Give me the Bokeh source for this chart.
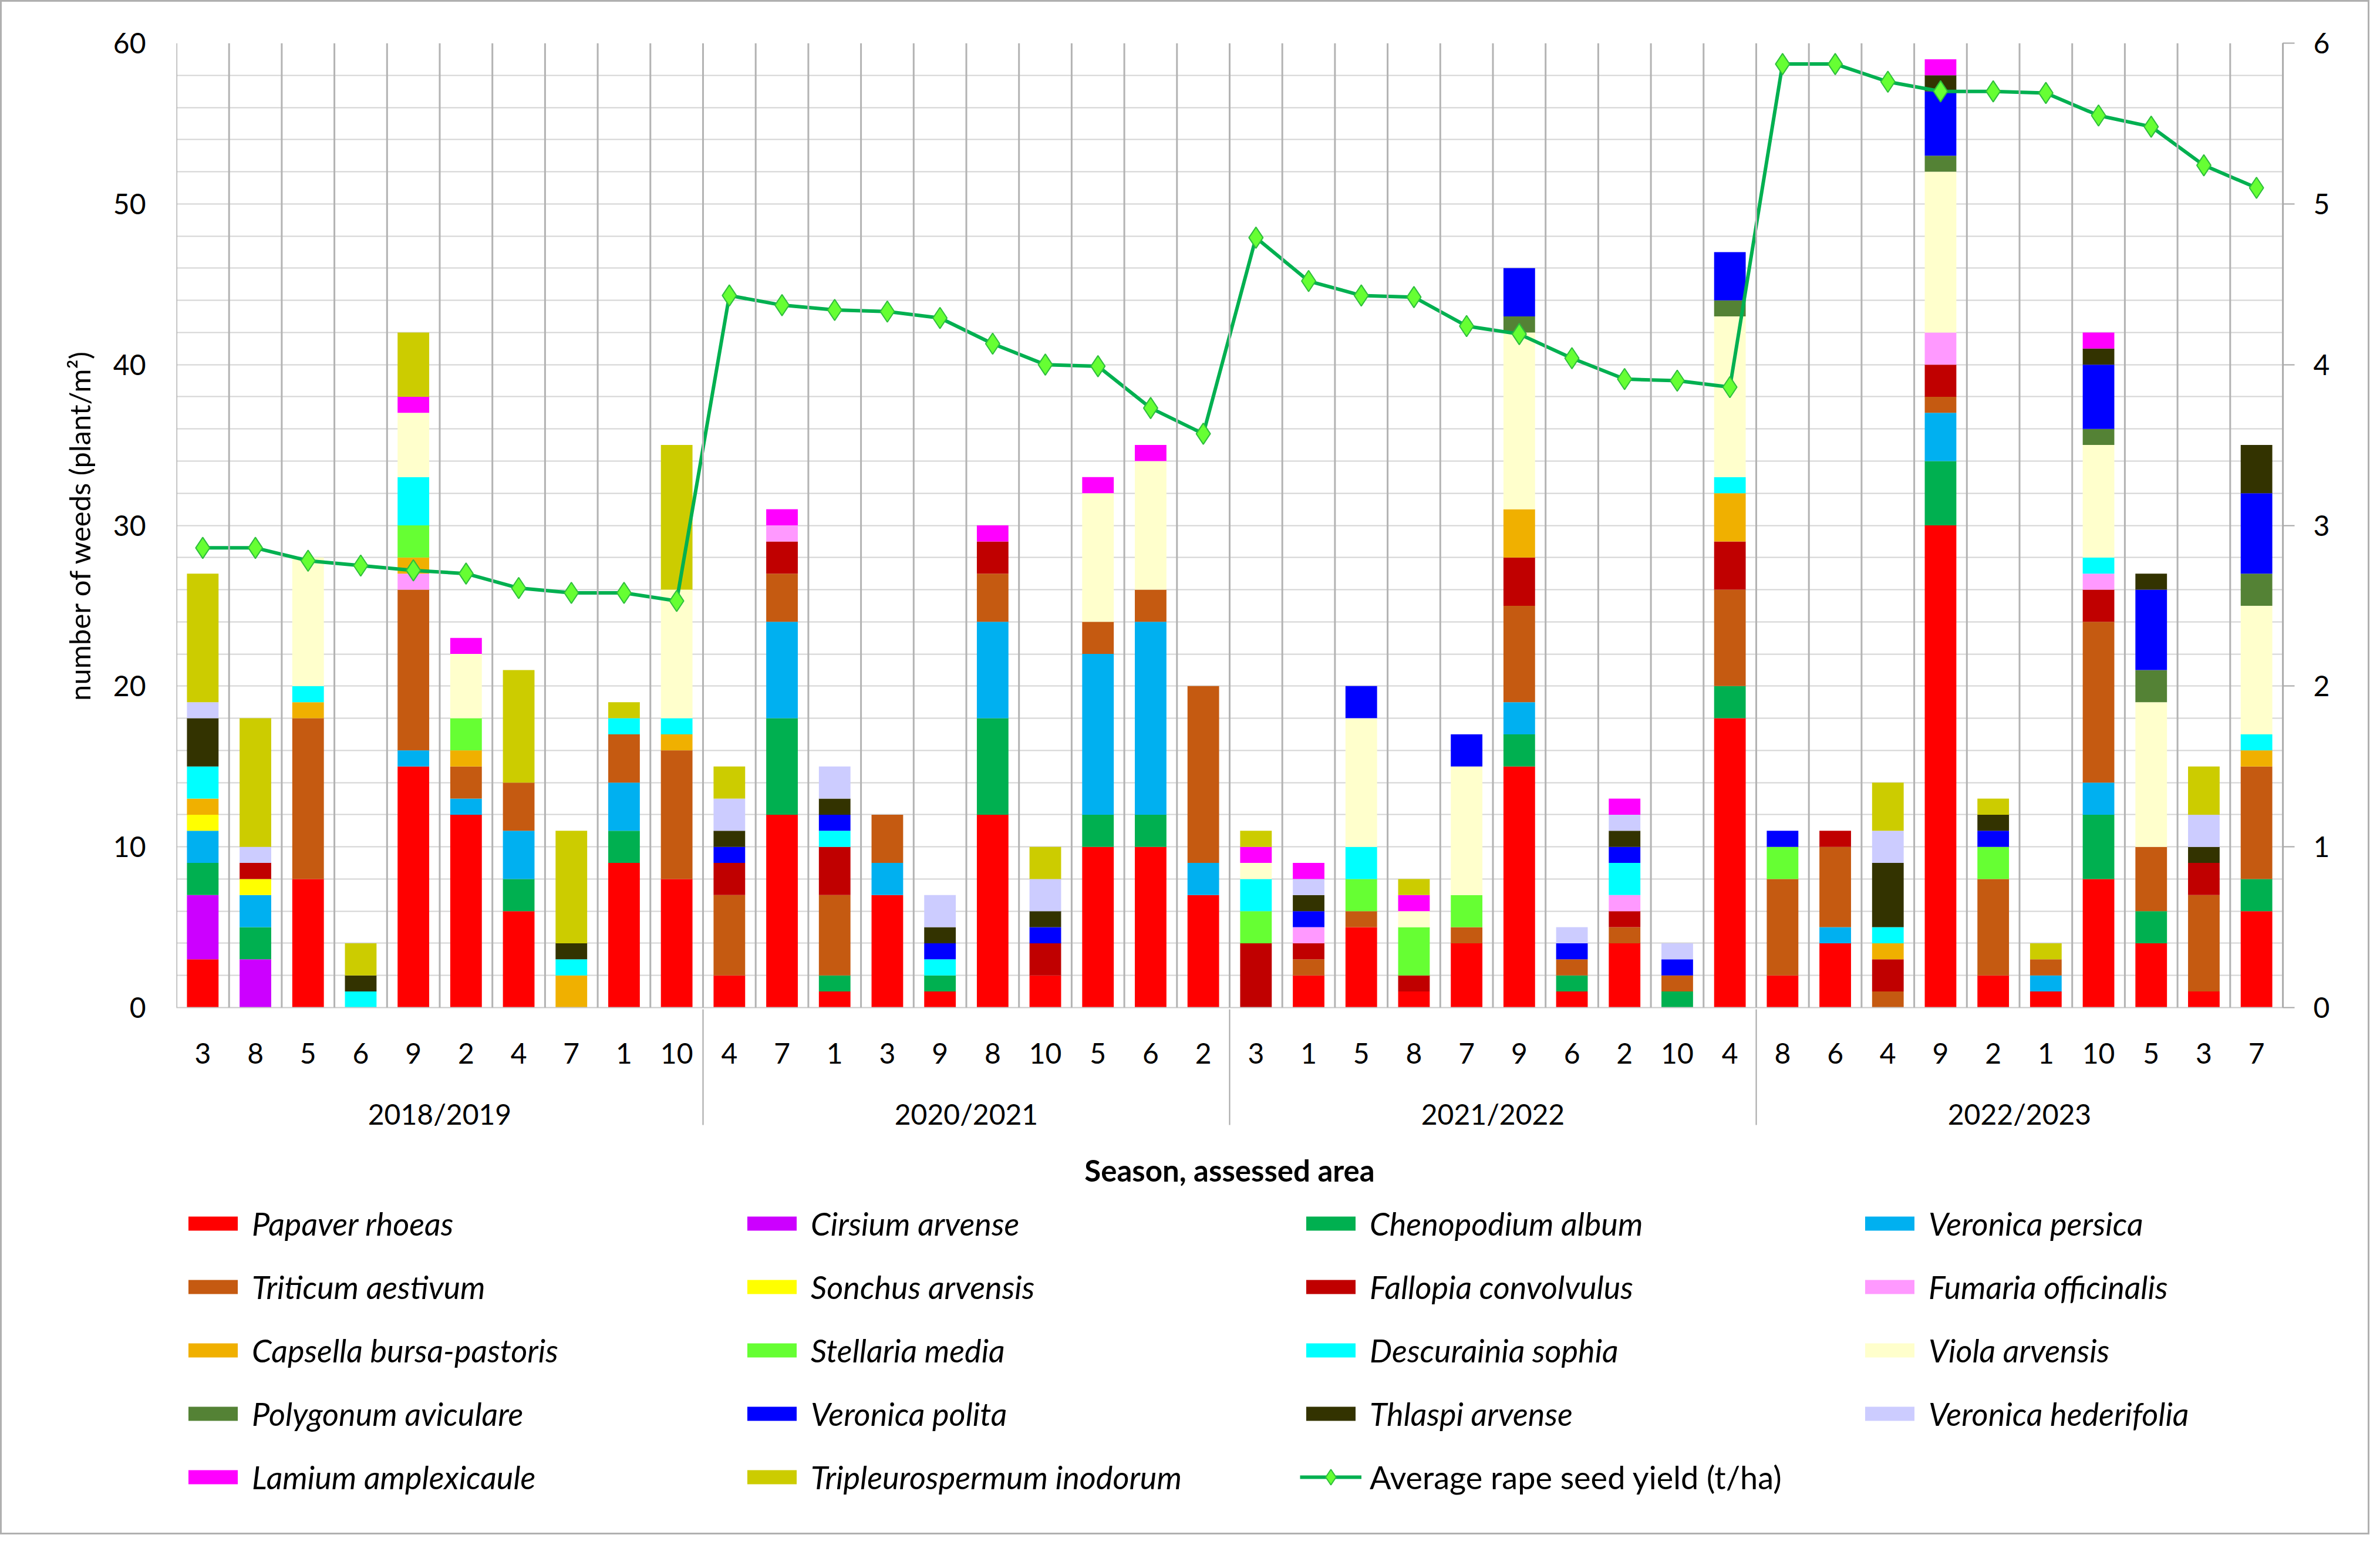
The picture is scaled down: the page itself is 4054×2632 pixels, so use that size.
from bokeh.plotting import figure
from bokeh.layouts import column
from bokeh.models import (ColumnDataSource, FactorRange, Range1d, LinearAxis,
                          SingleIntervalTicker, Span, Legend, LegendItem)
from bokeh.embed import file_html
from bokeh.resources import INLINE

FONT = "Lato"

# categories: season and assessed area (order as in the chart)
seasons = ["2018/2019", "2020/2021", "2021/2022", "2022/2023"]
areas_1819 = ["3", "8", "5", "6", "9", "2", "4", "7", "1", "10"]
areas_2021 = ["4", "7", "1", "3", "9", "8", "10", "5", "6", "2"]
areas_2122 = ["3", "1", "5", "8", "7", "9", "6", "2", "10", "4"]
areas_2223 = ["8", "6", "4", "9", "2", "1", "10", "5", "3", "7"]

# weeds, plant/m2, one value per bar (40 bars)
papaver = [3, 0, 8, 0, 15, 12, 6, 0, 9, 8,   2, 12, 1, 7, 1, 12, 2, 10, 10, 7,
           0, 2, 5, 1, 4, 15, 1, 4, 0, 18,   2, 4, 0, 30, 2, 1, 8, 4, 1, 6]
cirsium = [4, 3, 0, 0, 0, 0, 0, 0, 0, 0,     0, 0, 0, 0, 0, 0, 0, 0, 0, 0,
           0, 0, 0, 0, 0, 0, 0, 0, 0, 0,     0, 0, 0, 0, 0, 0, 0, 0, 0, 0]
chenopodium = [2, 2, 0, 0, 0, 0, 2, 0, 2, 0, 0, 6, 1, 0, 1, 6, 0, 2, 2, 0,
               0, 0, 0, 0, 0, 2, 1, 0, 1, 2, 0, 0, 0, 4, 0, 0, 4, 2, 0, 2]
ver_persica = [2, 2, 0, 0, 1, 1, 3, 0, 3, 0, 0, 6, 0, 2, 0, 6, 0, 10, 12, 2,
               0, 0, 0, 0, 0, 2, 0, 0, 0, 0, 0, 1, 0, 3, 0, 1, 2, 0, 0, 0]
triticum = [0, 0, 10, 0, 10, 2, 3, 0, 3, 8,  5, 3, 5, 3, 0, 3, 0, 2, 2, 11,
            0, 1, 1, 0, 1, 6, 1, 1, 1, 6,    6, 5, 1, 1, 6, 1, 10, 4, 6, 7]
sonchus = [1, 1, 0, 0, 0, 0, 0, 0, 0, 0,     0, 0, 0, 0, 0, 0, 0, 0, 0, 0,
           0, 0, 0, 0, 0, 0, 0, 0, 0, 0,     0, 0, 0, 0, 0, 0, 0, 0, 0, 0]
fallopia = [0, 1, 0, 0, 0, 0, 0, 0, 0, 0,    2, 2, 3, 0, 0, 2, 2, 0, 0, 0,
            4, 1, 0, 1, 0, 3, 0, 1, 0, 3,    0, 1, 2, 2, 0, 0, 2, 0, 2, 0]
fumaria = [0, 0, 0, 0, 1, 0, 0, 0, 0, 0,     0, 1, 0, 0, 0, 0, 0, 0, 0, 0,
           0, 1, 0, 0, 0, 0, 0, 1, 0, 0,     0, 0, 0, 2, 0, 0, 1, 0, 0, 0]
capsella = [1, 0, 1, 0, 1, 1, 0, 2, 0, 1,    0, 0, 0, 0, 0, 0, 0, 0, 0, 0,
            0, 0, 0, 0, 0, 3, 0, 0, 0, 3,    0, 0, 1, 0, 0, 0, 0, 0, 0, 1]
stellaria = [0, 0, 0, 0, 2, 2, 0, 0, 0, 0,   0, 0, 0, 0, 0, 0, 0, 0, 0, 0,
             2, 0, 2, 3, 2, 0, 0, 0, 0, 0,   2, 0, 0, 0, 2, 0, 0, 0, 0, 0]
descurainia = [2, 0, 1, 1, 3, 0, 0, 1, 1, 1, 0, 0, 1, 0, 1, 0, 0, 0, 0, 0,
               2, 0, 2, 0, 0, 0, 0, 2, 0, 1, 0, 0, 1, 0, 0, 0, 1, 0, 0, 1]
viola = [0, 0, 8, 0, 4, 4, 0, 0, 0, 8,       0, 0, 0, 0, 0, 0, 0, 8, 8, 0,
         1, 0, 8, 1, 8, 11, 0, 0, 0, 10,     0, 0, 0, 10, 0, 0, 7, 9, 0, 8]
polygonum = [0, 0, 0, 0, 0, 0, 0, 0, 0, 0,   0, 0, 0, 0, 0, 0, 0, 0, 0, 0,
             0, 0, 0, 0, 0, 1, 0, 0, 0, 1,   0, 0, 0, 1, 0, 0, 1, 2, 0, 2]
ver_polita = [0, 0, 0, 0, 0, 0, 0, 0, 0, 0,  1, 0, 1, 0, 1, 0, 1, 0, 0, 0,
              0, 1, 2, 0, 2, 3, 1, 1, 1, 3,  1, 0, 0, 4, 1, 0, 4, 5, 0, 5]
thlaspi = [3, 0, 0, 1, 0, 0, 0, 1, 0, 0,     1, 0, 1, 0, 1, 0, 1, 0, 0, 0,
           0, 1, 0, 0, 0, 0, 0, 1, 0, 0,     0, 0, 4, 1, 1, 0, 1, 1, 1, 3]
ver_hederifolia = [1, 1, 0, 0, 0, 0, 0, 0, 0, 0, 2, 0, 2, 0, 2, 0, 2, 0, 0, 0,
                   0, 1, 0, 0, 0, 0, 1, 1, 1, 0, 0, 0, 2, 0, 0, 0, 0, 0, 2, 0]
lamium = [0, 0, 0, 0, 1, 1, 0, 0, 0, 0,      0, 1, 0, 0, 0, 1, 0, 1, 1, 0,
          1, 1, 0, 1, 0, 0, 0, 1, 0, 0,      0, 0, 0, 1, 0, 0, 1, 0, 0, 0]
tripleurospermum = [8, 8, 0, 2, 4, 0, 7, 7, 1, 9, 2, 0, 0, 0, 0, 0, 2, 0, 0, 0,
                    1, 0, 0, 1, 0, 0, 0, 0, 0, 0, 0, 0, 3, 0, 1, 1, 0, 0, 3, 0]

# average rape seed yield, t/ha
rape_yield = [2.86, 2.86, 2.78, 2.75, 2.72, 2.70, 2.61, 2.58, 2.58, 2.53,
              4.43, 4.37, 4.34, 4.33, 4.29, 4.13, 4.00, 3.99, 3.73, 3.57,
              4.79, 4.52, 4.43, 4.42, 4.24, 4.19, 4.04, 3.91, 3.90, 3.86,
              5.87, 5.87, 5.76, 5.70, 5.70, 5.69, 5.55, 5.48, 5.24, 5.10]

species = ["Papaver rhoeas", "Cirsium arvense", "Chenopodium album", "Veronica persica",
           "Triticum aestivum", "Sonchus arvensis", "Fallopia convolvulus", "Fumaria officinalis",
           "Capsella bursa-pastoris", "Stellaria media", "Descurainia sophia", "Viola arvensis",
           "Polygonum aviculare", "Veronica polita", "Thlaspi arvense", "Veronica hederifolia",
           "Lamium amplexicaule", "Tripleurospermum inodorum"]
values = [papaver, cirsium, chenopodium, ver_persica, triticum, sonchus, fallopia, fumaria,
          capsella, stellaria, descurainia, viola, polygonum, ver_polita, thlaspi,
          ver_hederifolia, lamium, tripleurospermum]
colors = ["#FF0000", "#CC00FF", "#00B050", "#00B0F0", "#C55A11", "#FFFF00", "#C00000", "#FF99FF",
          "#F0B000", "#66FF33", "#00FFFF", "#FFFFCC", "#548235", "#0000FF", "#333300",
          "#CCCCFF", "#FF00FF", "#CCCC00"]
line_green = "#00B050"
marker_green = "#66FF33"

all_areas = [areas_1819, areas_2021, areas_2122, areas_2223]
factors = [(s, a) for s, al in zip(seasons, all_areas) for a in al]

data = {"x": factors, "yield": rape_yield}
for name, vals in zip(species, values):
    data[name] = vals
source = ColumnDataSource(data)

x_range = FactorRange(*factors, factor_padding=0, group_padding=0, range_padding=0)
p = figure(x_range=x_range, y_range=Range1d(0, 60), width=4030, height=2023,
           output_backend="svg", toolbar_location=None, tools="",
           min_border_left=297, min_border_right=145, min_border_top=70, min_border_bottom=302)
p.outline_line_color = None
p.extra_y_ranges = {"yield": Range1d(0, 6)}

p.vbar_stack(species, x="x", width=0.6, source=source, fill_color=colors, line_color=None)
p.line(x="x", y="yield", source=source, y_range_name="yield", line_color=line_green, line_width=6)
p.scatter(x="x", y="yield", source=source, y_range_name="yield", marker="diamond",
          size=36, fill_color=marker_green, line_color="#2DBE3C", line_width=2)

# grid
p.xgrid.grid_line_color = None
p.ygrid.ticker = SingleIntervalTicker(interval=2)
p.ygrid.grid_line_color = "#D4D4D4"
p.ygrid.grid_line_width = 2
for i in range(len(factors) + 1):
    p.add_layout(Span(location=i, dimension="height", line_color="#B3B3B3", line_width=3))

# left axis
ya = p.yaxis[0]
ya.ticker = SingleIntervalTicker(interval=10)
ya.axis_line_color = None
ya.major_tick_line_color = None
ya.minor_tick_line_color = None
ya.major_label_standoff = 46
ya.major_label_text_font = FONT
ya.major_label_text_font_size = "48px"
ya.major_label_text_color = "#000000"
ya.axis_label = "number of weeds (plant/m²)"
ya.axis_label_text_font = FONT
ya.axis_label_text_font_size = "49px"
ya.axis_label_text_font_style = "normal"
ya.axis_label_text_color = "#000000"
ya.axis_label_standoff = 26

# right axis
ra = LinearAxis(y_range_name="yield", ticker=SingleIntervalTicker(interval=1))
ra.axis_line_color = "#A6A6A6"
ra.axis_line_width = 3
ra.major_tick_line_color = "#A6A6A6"
ra.major_tick_line_width = 2
ra.major_tick_out = 20
ra.major_tick_in = 0
ra.minor_tick_line_color = None
ra.major_label_standoff = 32
ra.major_label_text_font = FONT
ra.major_label_text_font_size = "48px"
ra.major_label_text_color = "#000000"
p.add_layout(ra, "right")

# bottom axis
xa = p.xaxis[0]
xa.axis_line_color = "#C8C8C8"
xa.axis_line_width = 2
xa.major_tick_line_color = None
xa.major_label_standoff = 54
xa.major_label_text_font = FONT
xa.major_label_text_font_size = "48px"
xa.major_label_text_color = "#000000"
xa.group_text_font = FONT
xa.group_text_font_size = "48px"
xa.group_text_color = "#000000"
xa.group_text_font_style = "normal"
xa.separator_line_color = "#A6A6A6"
xa.separator_line_width = 2
xa.axis_label = "Season, assessed area"
xa.axis_label_text_font = FONT
xa.axis_label_text_font_size = "51px"
xa.axis_label_text_font_style = "bold"
xa.axis_label_text_color = "#000000"
xa.axis_label_standoff = 34

# legend panel below the chart; its keys reuse the data far outside the visible range
lg = figure(width=4030, height=585, x_range=x_range, y_range=Range1d(100, 101),
            x_axis_type=None, y_axis_type=None, output_backend="svg",
            toolbar_location=None, tools="", min_border=0)
lg.grid.grid_line_color = None
lg.outline_line_color = None

keys = lg.vbar_stack(species, x="x", width=0.6, source=source, fill_color=colors, line_color=None)
key_line = lg.line(x="x", y="yield", source=source, line_color=line_green, line_width=6)
key_marker = lg.scatter(x="x", y="yield", source=source, marker="diamond", size=30,
                        fill_color=marker_green, line_color="#2DBE3C", line_width=2)

legend_style = dict(padding=0, margin=0, spacing=42, border_line_color=None,
                    background_fill_alpha=0, glyph_width=105,
                    label_standoff=14, label_width=791, label_height=66,
                    label_text_font=FONT, label_text_font_size="54px",
                    label_text_color="#000000")
leg = Legend(items=[LegendItem(label=n, renderers=[k]) for n, k in zip(species, keys)],
             orientation="horizontal", ncols=4, location=(10, 62), glyph_height=30,
             label_text_font_style="italic", **legend_style)
lg.add_layout(leg, "center")
leg_y = Legend(items=[LegendItem(label="Average rape seed yield (t/ha)",
                                 renderers=[key_line, key_marker])],
               location=(1914, 62), glyph_height=66, **legend_style)
lg.add_layout(leg_y, "center")

layout = column(p, lg, spacing=0, styles={"border": "3px solid #B0B0B0"})
open("out.html", "w").write(file_html(layout, INLINE))
